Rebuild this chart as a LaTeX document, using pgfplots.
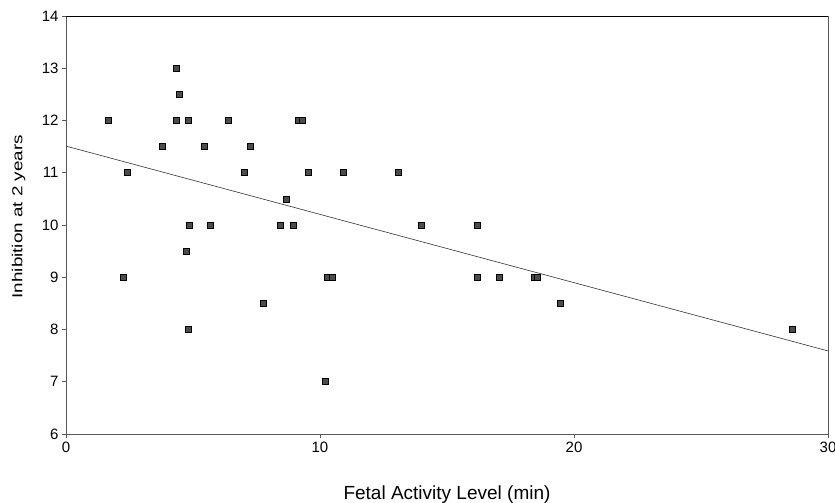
\documentclass[border=0pt]{standalone}
\usepackage{fontspec}
\setmainfont{Liberation Sans}
\usepackage{pgfplots}
\pgfplotsset{compat=1.18}

\begin{document}
\begin{tikzpicture}
\useasboundingbox (-66pt,-69pt) rectangle (769pt,434pt);
\begin{axis}[
  scale only axis, width=762pt, height=418pt,
  xmin=0, xmax=30, ymin=6, ymax=14,
  xtick={0,10,20,30}, ytick={6,7,...,14},
  xtick pos=left, ytick pos=left, tick align=outside,
  major tick length=4pt,
  axis line style={black!65, line width=0.7pt},
  tick style={black!65, line width=0.7pt},
  extra y ticks={14}, extra y tick labels={},
  extra y tick style={grid=major, major grid style={black, line width=1pt}},
  /pgf/number format/assume math mode=true,
  tick label style={font=\fontsize{15}{17}\selectfont, black},
  xlabel={Fetal Activity Level (min)},
  ylabel={\scalebox{1.3}[1]{Inhibition at 2 years}},
  xlabel style={font=\fontsize{19}{21}\selectfont,
    at={(axis description cs:0.5,-0.1555)}, anchor=base},
  ylabel style={font=\fontsize{14.5}{16}\selectfont,
    at={(axis description cs:-0.0623,0.52)}, anchor=center},
  clip=false,
]
\addplot[black!80, line width=0.6pt] coordinates {(0,11.51) (30,7.59)};
\addplot[only marks, mark=square*, mark size=3pt,
  mark options={fill=black!70, draw=black, line width=0.6pt}] coordinates {
  (1.65,12) (2.24,9) (2.40,11) (3.78,11.5) (4.33,13) (4.45,12.5)
  (4.33,12) (4.80,12) (4.72,9.5) (4.84,10) (4.80,8) (5.43,11.5)
  (5.67,10) (6.38,12) (7.00,11) (7.24,11.5) (7.76,8.5) (8.43,10)
  (8.66,10.5) (8.94,10) (9.13,12) (9.32,12) (9.53,11) (10.20,7)
  (10.30,9) (10.50,9) (10.90,11) (13.10,11) (14.00,10) (16.20,10)
  (16.20,9) (17.05,9) (18.45,9) (18.55,9) (19.45,8.5) (28.60,8)
};
\end{axis}
\end{tikzpicture}
\end{document}
